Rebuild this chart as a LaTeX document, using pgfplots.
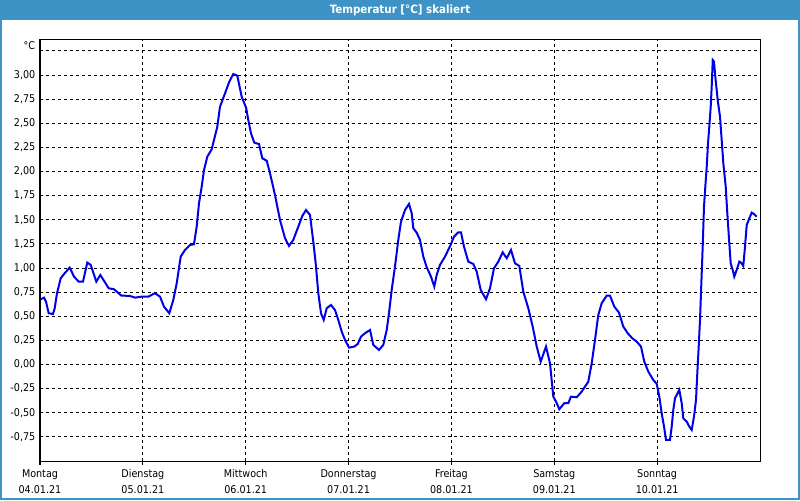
\documentclass[border=0pt]{standalone}
\usepackage{fontspec}
\setmainfont{DejaVu Sans Condensed}
\usepackage{pgfplots}
\pgfplotsset{compat=1.18}
\definecolor{titleblue}{RGB}{61,146,198}
\definecolor{lineblue}{RGB}{0,0,232}
\begin{document}
\begin{tikzpicture}[x=1pt,y=1pt]
\useasboundingbox (0,0) rectangle (600,375);
\fill[white] (0,0) rectangle (600,375);
\fill[titleblue] (0,360) rectangle (600,375);
\draw[titleblue, line width=1.5pt] (0.75,0.75) rectangle (599.25,374);
\node[text=white, font=\fontsize{8.6}{9}\selectfont\bfseries] at (300,367) {Temperatur [°C] skaliert};
\node[anchor=east, font=\fontsize{8}{9}\selectfont, inner sep=0pt] at (26.5,340.5) {°C};
\begin{axis}[
  at={(30pt,29.25pt)}, anchor=south west,
  scale only axis, width=540pt, height=315.75pt,
  xmin=0, xmax=168, ymin=-1, ymax=3.363,
  axis line style={black, line width=0.75pt},
  tick align=outside, major tick length=3pt,
  xtick={0,24,...,144}, xtick pos=bottom,
  xticklabels={{Montag\\04.01.21},{Dienstag\\05.01.21},{Mittwoch\\06.01.21},{Donnerstag\\07.01.21},{Freitag\\08.01.21},{Samstag\\09.01.21},{Sonntag\\10.01.21}},
  x tick label style={align=center, font=\fontsize{8}{12}\selectfont},
  xtick style={black, line width=0.75pt},
  ytick={-0.75,-0.5,...,3.0},
  extra y ticks={3.25}, extra y tick labels={},
  ytick style={draw=none},
  extra y tick style={ytick style={draw=none}},
  y tick label style={font=\fontsize{8}{9}\selectfont, xshift=3pt},
  yticklabel={\pgfmathprintnumber[fixed,fixed zerofill,precision=2,use comma,assume math mode=true]{\tick}},
  grid=major,
  major grid style={black, line width=0.75pt, dash pattern=on 2.25pt off 2.25pt},
]
\addplot[lineblue, line width=1.5pt] coordinates {
(0.16,0.676)(0.93,0.693)(1.40,0.652)(2.03,0.531)(3.03,0.524)(3.43,0.583)(3.97,0.739)
(4.83,0.894)(5.76,0.946)(6.93,1.004)(7.93,0.911)(9.03,0.859)(10.03,0.859)(11.04,1.056)
(11.83,1.032)(13.14,0.859)(14.07,0.928)(16.03,0.790)(17.27,0.780)(18.97,0.714)(20.93,0.711)
(22.24,0.693)(23.64,0.703)(25.27,0.703)(26.83,0.739)(28.00,0.703)(28.93,0.600)(30.17,0.531)
(31.10,0.669)(31.90,0.842)(32.83,1.118)(33.83,1.187)(35.00,1.239)(35.93,1.246)(36.56,1.429)
(37.10,1.671)(37.73,1.843)(38.27,2.016)(39.04,2.154)(40.06,2.230)(40.60,2.327)(41.37,2.464)
(42.00,2.672)(43.17,2.810)(44.17,2.931)(45.10,3.010)(46.04,2.993)(47.06,2.775)(48.10,2.660)
(48.60,2.534)(49.23,2.396)(50.00,2.299)(51.10,2.285)(51.87,2.137)(52.90,2.112)(53.67,1.982)
(54.83,1.757)(56.00,1.498)(57.17,1.308)(58.10,1.229)(59.10,1.291)(60.27,1.429)(61.20,1.539)
(62.07,1.601)(63.00,1.550)(63.77,1.273)(64.33,1.049)(64.94,0.739)(65.57,0.531)(66.20,0.462)
(66.90,0.583)(67.90,0.617)(68.83,0.565)(69.60,0.462)(70.40,0.341)(71.17,0.255)(72.10,0.175)
(73.33,0.186)(74.13,0.213)(74.90,0.289)(75.83,0.324)(77.00,0.358)(77.77,0.203)(79.10,0.151)
(80.10,0.203)(80.90,0.358)(81.43,0.531)(82.06,0.773)(82.83,1.014)(83.60,1.291)(84.23,1.480)
(85.17,1.601)(86.10,1.664)(86.73,1.567)(87.10,1.412)(87.90,1.366)(88.67,1.291)(89.44,1.118)
(90.23,1.008)(91.23,0.911)(92.00,0.807)(92.56,0.928)(93.33,1.032)(94.50,1.118)(95.67,1.225)
(96.60,1.325)(97.60,1.370)(98.23,1.370)(98.93,1.221)(99.94,1.066)(101.10,1.042)(101.90,0.962)
(102.83,0.773)(104.07,0.676)(105.00,0.790)(105.93,0.997)(106.94,1.066)(107.96,1.163)
(108.90,1.101)(109.90,1.187)(110.83,1.049)(111.84,1.021)(112.77,0.755)(113.94,0.583)
(114.96,0.393)(115.90,0.186)(116.83,0.030)(118.07,0.186)(119.00,0.013)(119.77,-0.333)
(120.40,-0.384)(121.17,-0.463)(122.34,-0.401)(123.27,-0.401)(123.90,-0.333)(125.23,-0.339)
(126.40,-0.281)(127.94,-0.177)(128.73,0.013)(129.50,0.255)(130.27,0.514)(131.06,0.635)
(132.23,0.714)(133.00,0.714)(134.00,0.600)(135.10,0.538)(136.10,0.393)(137.13,0.324)
(138.20,0.272)(139.23,0.237)(140.23,0.186)(141.00,0.030)(141.94,-0.074)(143.10,-0.160)
(143.89,-0.200)(144.50,-0.333)(145.06,-0.505)(145.60,-0.643)(146.07,-0.781)(147.00,-0.781)
(147.40,-0.643)(147.77,-0.470)(148.17,-0.349)(149.17,-0.263)(149.73,-0.401)(150.10,-0.557)
(150.90,-0.592)(151.50,-0.643)(152.06,-0.678)(152.60,-0.540)(153.07,-0.367)(153.37,-0.090)
(153.70,0.186)(154.00,0.462)(154.23,0.739)(154.40,0.946)(154.63,1.221)(154.93,1.636)
(155.24,1.843)(155.57,2.050)(155.87,2.292)(156.17,2.464)(156.50,2.672)(156.73,2.879)
(156.97,3.155)(157.27,3.138)(157.57,2.983)(158.13,2.741)(158.67,2.568)(159.06,2.327)
(159.44,2.085)(160.00,1.843)(160.37,1.567)(160.84,1.256)(161.16,1.049)(161.63,0.980)
(162.00,0.911)(162.56,0.980)(163.17,1.066)(163.57,1.056)(164.10,1.021)(164.50,1.221)
(164.90,1.446)(165.43,1.505)(166.06,1.574)(166.60,1.560)(167.23,1.532)
};
\end{axis}
\end{tikzpicture}
\end{document}
